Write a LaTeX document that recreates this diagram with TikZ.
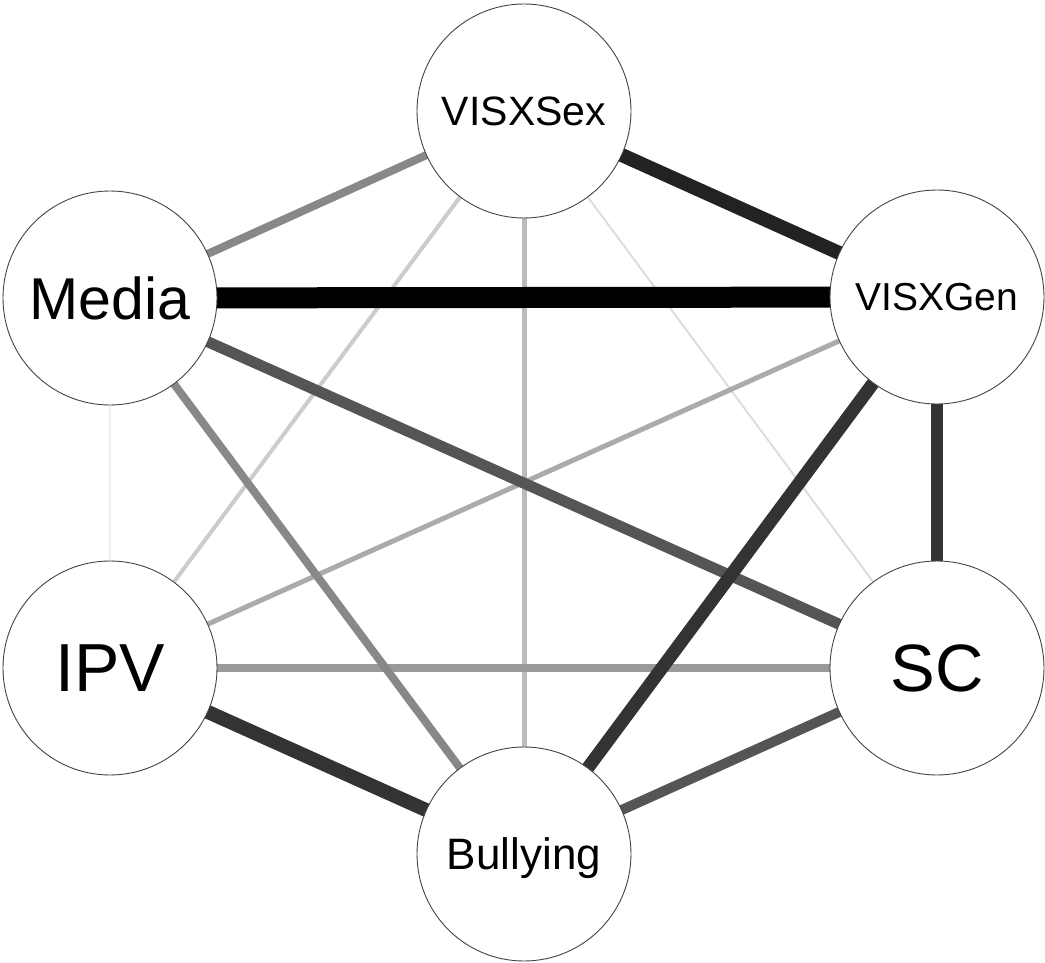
\documentclass[tikz,border=0pt]{standalone}
\usepackage{fontspec}
\setmainfont{Liberation Sans}
\usetikzlibrary{backgrounds}
\definecolor{eA}{HTML}{000000}
\definecolor{eB}{HTML}{222222}
\definecolor{eC}{HTML}{333333}
\definecolor{eD}{HTML}{555555}
\definecolor{eE}{HTML}{888888}
\definecolor{eF}{HTML}{9A9A9A}
\definecolor{eG}{HTML}{ABABAB}
\definecolor{eH}{HTML}{BBBBBB}
\definecolor{eI}{HTML}{CCCCCC}
\definecolor{eJ}{HTML}{DDDDDD}
\definecolor{eK}{HTML}{EEEEEE}
\definecolor{ring}{HTML}{444444}
\tikzset{
  var/.style={circle, draw=ring, line width=0.9pt, fill=white, minimum size=214pt, inner sep=0pt, text depth=0pt},
  link/.style={line cap=butt}
}
\begin{document}
\begin{tikzpicture}[x=1pt,y=-1pt]
\useasboundingbox (0,0) rectangle (1045,963);
\node[var, font=\fontsize{41}{41}\selectfont] (sex) at (524,111) {VISXSex};
\node[var, font=\fontsize{59}{59}\selectfont] (media) at (110,298) {Media};
\node[var, font=\fontsize{39}{39}\selectfont] (gen) at (937,297) {VISXGen};
\node[var, font=\fontsize{68}{68}\selectfont] (ipv) at (110,668) {IPV};
\node[var, font=\fontsize{67}{67}\selectfont] (sc) at (937,668) {SC};
\node[var, font=\fontsize{44}{44}\selectfont] (bul) at (524,854) {Bullying};
\begin{scope}[on background layer]
\draw[link, draw=eK, line width=1.2pt] (media.center) -- (ipv.center);
\draw[link, draw=eJ, line width=2pt] (sex.center) -- (sc.center);
\draw[link, draw=eI, line width=4pt] (sex.center) -- (ipv.center);
\draw[link, draw=eH, line width=5pt] (sex.center) -- (bul.center);
\draw[link, draw=eG, line width=5pt] (gen.center) -- (ipv.center);
\draw[link, draw=eF, line width=8pt] (ipv.center) -- (sc.center);
\draw[link, draw=eE, line width=8pt] (sex.center) -- (media.center);
\draw[link, draw=eE, line width=8pt] (media.center) -- (bul.center);
\draw[link, draw=eD, line width=11pt] (media.center) -- (sc.center);
\draw[link, draw=eD, line width=10pt] (sc.center) -- (bul.center);
\draw[link, draw=eC, line width=13pt] (gen.center) -- (bul.center);
\draw[link, draw=eC, line width=12pt] (gen.center) -- (sc.center);
\draw[link, draw=eC, line width=14pt] (ipv.center) -- (bul.center);
\draw[link, draw=eB, line width=14pt] (sex.center) -- (gen.center);
\draw[link, draw=eA, line width=21pt] (media.center) -- (gen.center);
\end{scope}
\end{tikzpicture}
\end{document}
